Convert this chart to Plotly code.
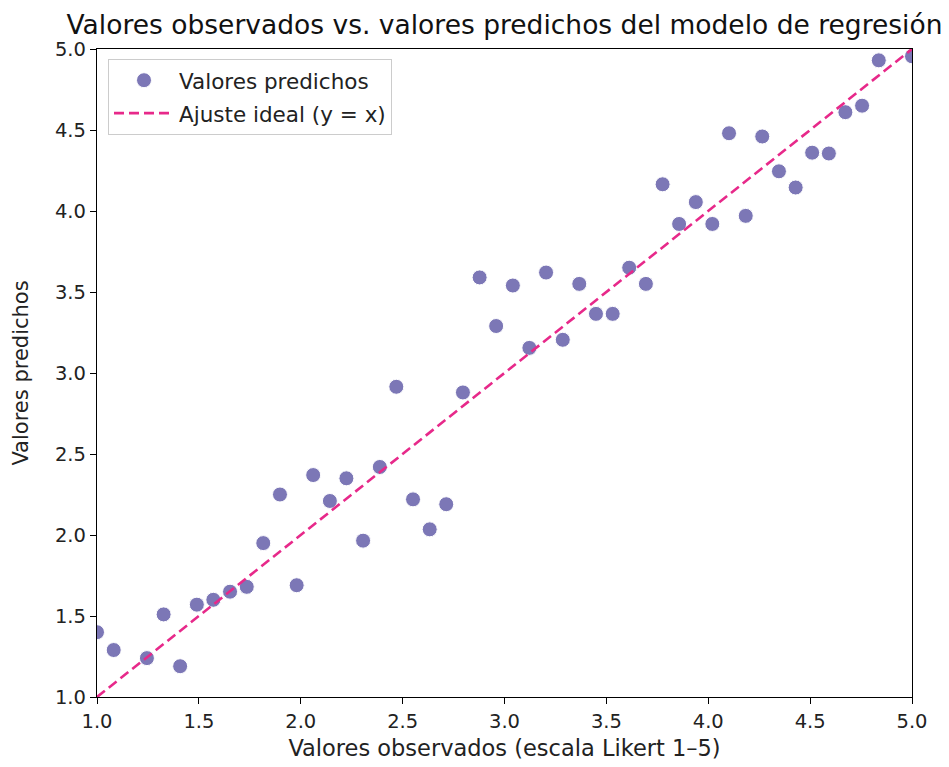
import plotly.graph_objects as go

# Observed values (Likert 1-5) and model predictions
observed = [1.0, 1.082, 1.245, 1.327, 1.408, 1.49, 1.571, 1.653, 1.735, 1.816,
            1.898, 1.98, 2.061, 2.143, 2.224, 2.306, 2.388, 2.469, 2.551, 2.633,
            2.714, 2.796, 2.878, 2.959, 3.041, 3.122, 3.204, 3.286, 3.367, 3.449,
            3.531, 3.612, 3.694, 3.776, 3.857, 3.939, 4.02, 4.102, 4.184, 4.265,
            4.347, 4.429, 4.51, 4.592, 4.673, 4.755, 4.837, 5.0]
predicted = [1.40, 1.29, 1.24, 1.51, 1.19, 1.57, 1.60, 1.65, 1.68, 1.95,
             2.25, 1.69, 2.37, 2.21, 2.35, 1.965, 2.42, 2.915, 2.22, 2.035,
             2.19, 2.88, 3.59, 3.29, 3.54, 3.155, 3.62, 3.205, 3.55, 3.365,
             3.365, 3.65, 3.55, 4.165, 3.92, 4.055, 3.92, 4.48, 3.97, 4.46,
             4.245, 4.145, 4.36, 4.355, 4.61, 4.65, 4.93, 4.955]
ideal_x = [1.0, 5.0]
ideal_y = [1.0, 5.0]
tick_vals = [1.0, 1.5, 2.0, 2.5, 3.0, 3.5, 4.0, 4.5, 5.0]
tick_text = ["1.0", "1.5", "2.0", "2.5", "3.0", "3.5", "4.0", "4.5", "5.0"]

FONT = "DejaVu Sans"

fig = go.Figure()
fig.add_trace(go.Scatter(
    x=observed, y=predicted, mode="markers", name="Valores predichos",
    legendgroup="a",
    marker=dict(color="#7570b3", size=15, opacity=0.95,
                line=dict(color="white", width=1)),
))
fig.add_trace(go.Scatter(
    x=ideal_x, y=ideal_y, mode="lines", name="Ajuste ideal (y = x)",
    legendgroup="b",
    line=dict(color="#e7298a", width=2.6, dash="10px,5px"),
))

axis_common = dict(
    range=[1.0, 5.0], tickvals=tick_vals, ticktext=tick_text,
    showgrid=False, zeroline=False, showline=True, mirror=True,
    linecolor="black", linewidth=1.3, ticks="outside", ticklen=6,
    tickwidth=1.3, tickcolor="black",
    tickfont=dict(family=FONT, size=19.5, color="#222"),
)

fig.update_layout(
    width=941, height=759,
    margin=dict(l=89, r=37, t=41, b=70),
    paper_bgcolor="white", plot_bgcolor="white",
    font=dict(family=FONT, color="#222"),
    title=dict(text="Valores observados vs. valores predichos del modelo de regresión",
               x=0.5, xref="paper", xanchor="center",
               y=0.966, yanchor="bottom", yref="container",
               font=dict(family=FONT, size=26.5, color="#111")),
    xaxis=dict(axis_common,
               title=dict(text="Valores observados (escala Likert 1–5)",
                          font=dict(family=FONT, size=22.5, color="#222"),
                          standoff=8)),
    yaxis=dict(axis_common,
               title=dict(text="Valores predichos",
                          font=dict(family=FONT, size=21, color="#222"),
                          standoff=20)),
    legend=dict(x=0.0135, y=0.985, xanchor="left", yanchor="top",
                bgcolor="rgba(255,255,255,0.8)", bordercolor="#cccccc",
                borderwidth=1, tracegroupgap=2, itemwidth=60,
                font=dict(family=FONT, size=21.5, color="#222")),
    showlegend=True,
)

fig.write_html("out.html")
